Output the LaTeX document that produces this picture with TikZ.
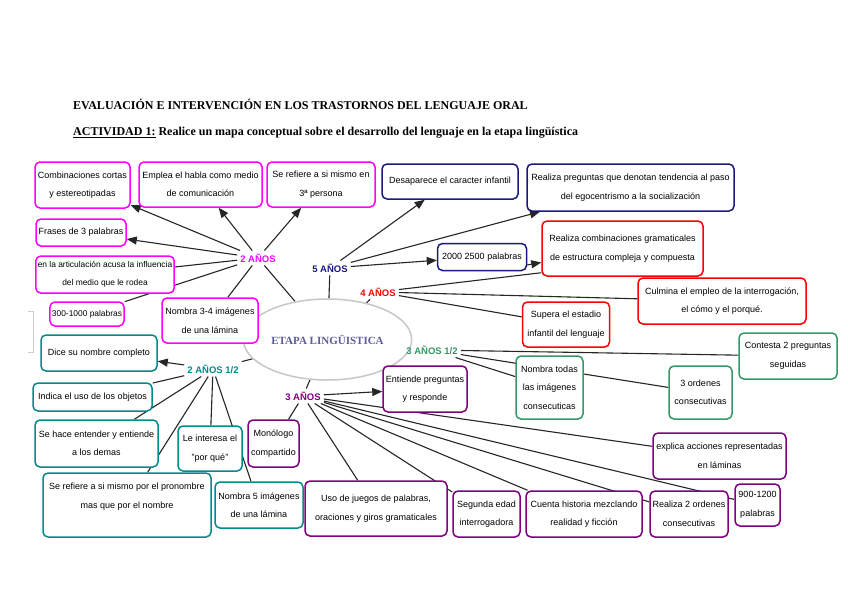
\documentclass[tikz,border=0pt]{standalone}
\usepackage{fontspec}
\setmainfont{Liberation Serif}
\setsansfont{Liberation Sans}
\usetikzlibrary{arrows.meta,shapes.geometric,backgrounds}
\definecolor{mag}{HTML}{FF00FF}
\definecolor{navy}{HTML}{1A1A7E}
\definecolor{rojo}{HTML}{FF0000}
\definecolor{verde}{HTML}{339966}
\definecolor{teal2}{HTML}{008B8B}
\definecolor{morado}{HTML}{800080}
\definecolor{etapatxt}{HTML}{5C5C99}

\begin{document}
\begin{tikzpicture}[x=1pt, y=-1pt,
  box/.style={draw=#1, fill=white, rounded corners=5pt, line width=1.5pt, align=center,
              font=\sffamily\fontsize{9}{18.5}\selectfont, inner sep=2pt},
  wh/.style n args={2}{minimum width=#1pt, minimum height=#2pt},
  small/.style={font=\sffamily\fontsize{8.4}{18}\selectfont},
  age/.style={text=#1, font=\sffamily\bfseries\fontsize{9.5}{11}\selectfont, inner sep=3pt},
  link/.style={draw=black!85, line width=1.1pt},
  >={Triangle[length=10pt,width=8pt]}]
\useasboundingbox (0,0) rectangle (848,599);

\node[anchor=west, inner sep=0pt, font=\bfseries\fontsize{12}{14}\selectfont] (titulo) at (73,104)
  {EVALUACIÓN E INTERVENCIÓN EN LOS TRASTORNOS DEL LENGUAJE ORAL};
\node[anchor=west, inner sep=0pt, font=\bfseries\fontsize{12}{14}\selectfont] (actividad) at (73,133)
  {\underline{ACTIVIDAD 1:} Realice un mapa conceptual sobre el desarrollo del lenguaje en la etapa lingüística};

\node[ellipse, draw=black!22, line width=1.5pt, fill=white, minimum width=133pt, minimum height=81pt,
      text=etapatxt, font=\bfseries\fontsize{11}{13}\selectfont] (etapa) at (327.5,339.5) {ETAPA LINGÜISTICA};

\node[age=mag] (dos) at (258,258) {2 AÑOS};
\node[box=mag, wh={95}{46}] (comb) at (82.5,185) {Combinaciones cortas\\y estereotipadas};
\node[box=mag, wh={123}{45}] (emplea) at (200.5,184.5) {Emplea el habla como medio\\de comunicación};
\node[box=mag, wh={108}{45}] (refiere) at (321,184.5) {Se refiere a si mismo en\\3ª persona};
\node[box=mag, wh={90}{27}] (frases) at (81,232.5) {Frases de 3 palabras};
\node[box=mag, wh={138}{37}, small] (artic) at (105,274.5) {en la articulación acusa la influencia\\del medio que le rodea};
\node[box=mag, wh={74}{24}, small] (pal300) at (87,314) {300-1000 palabras};
\node[box=mag, wh={96}{45}] (nom34) at (210,320.5) {Nombra 3-4 imágenes\\de una lámina};

\node[age=navy] (cinco) at (330,268) {5 AÑOS};
\node[box=navy, wh={136}{35}] (desap) at (450,181.5) {Desaparece el caracter infantil};
\node[box=navy, wh={207}{47}] (pregunt) at (630.5,187.5) {Realiza preguntas que denotan tendencia al paso\\del egocentrismo a la socialización};
\node[box=navy, wh={89}{27}] (pal2000) at (482,257) {2000 2500 palabras};

\node[age=rojo] (cuatro) at (378,292) {4 AÑOS};
\node[box=rojo, wh={161}{55}] (combgram) at (622.5,248.5) {Realiza combinaciones gramaticales\\de estructura compleja y compuesta};
\node[box=rojo, wh={168}{46}] (culmina) at (722,301) {Culmina el empleo de la interrogación,\\el cómo y el porqué.};
\node[box=rojo, wh={87}{45}] (supera) at (566,324.5) {Supera el estadio\\infantil del lenguaje};

\node[age=verde] (tresmedio) at (432,350) {3 AÑOS 1/2};
\node[box=verde, wh={98}{46}] (contesta) at (788,356) {Contesta 2 preguntas\\seguidas};
\node[box=verde, wh={67}{63}] (nomtodas) at (549.5,387.5) {Nombra todas\\las imágenes\\consecuticas};
\node[box=verde, wh={63}{53}] (ordenes) at (700.5,392.5) {3 ordenes\\consecutivas};

\node[age=morado] (tres) at (303,396) {3 AÑOS};
\node[box=morado, wh={84}{46}] (entiende) at (425,389) {Entiende preguntas\\y responde};
\node[box=morado, wh={133}{46}] (explica) at (719.5,456) {explica acciones representadas\\en láminas};
\node[box=morado, wh={45}{42}] (pal900) at (757.5,505) {900-1200\\palabras};
\node[box=morado, wh={78}{46}] (realiza) at (689,514) {Realiza 2 ordenes\\consecutivas};
\node[box=morado, wh={116}{46}] (cuenta) at (584,514) {Cuenta historia mezclando\\realidad y ficción};
\node[box=morado, wh={67}{46}] (segunda) at (486.5,514) {Segunda edad\\interrogadora};
\node[box=morado, wh={142}{55}] (juegos) at (376,508.5) {Uso de juegos de palabras,\\oraciones y giros gramaticales};
\node[box=morado, wh={51}{47}] (monologo) at (273.5,443.5) {Monólogo\\compartido};

\node[age=teal2] (dosmedio) at (213,369) {2 AÑOS 1/2};
\node[box=teal2, wh={116}{36}] (dice) at (99,353) {Dice su nombre completo};
\node[box=teal2, wh={119}{28}] (indica) at (92.5,397) {Indica el uso de los objetos};
\node[box=teal2, wh={123}{47}] (hace) at (96.5,443.5) {Se hace entender y entiende\\a los demas};
\node[box=teal2, wh={168}{64}] (pronombre) at (127,505) {Se refiere a si mismo por el pronombre\\mas que por el nombre\\~};
\node[box=teal2, wh={64}{45}] (interesa) at (210,448.5) {Le interesa el\\"por qué"};
\node[box=teal2, wh={88}{46}] (nom5) at (259,505) {Nombra 5 imágenes\\de una lámina};

\draw[black!20, line width=1pt] (28,311) -- (33,311) -- (33,352) -- (28,352);

\begin{pgfonlayer}{background}
\fill[white] (0,0) rectangle (848,599);
\draw[link] (dos) -- (etapa);
\draw[link,->] (dos) -- (comb);
\draw[link,->] (dos) -- (emplea);
\draw[link,->] (dos) -- (refiere);
\draw[link,->] (dos) -- (frases);
\draw[link] (dos) -- (artic);
\draw[link] (dos) -- (pal300);
\draw[link] (dos) -- (nom34);

\draw[link] (cinco) -- (etapa);
\draw[link,->] (cinco) -- (desap);
\draw[link,->] (cinco) -- (pregunt);
\draw[link,->] (cinco) -- (pal2000);
\draw[link,->] ([yshift=-8pt]pal2000.east) -- ([yshift=-14pt]combgram.west);

\draw[link] (cuatro) -- (etapa);
\draw[link] (cuatro) -- ([yshift=4pt]combgram.south west);
\draw[link] (cuatro) -- (culmina);
\draw[link] (cuatro) -- (supera);

\draw[link] (etapa) -- (tresmedio);
\draw[link] (tresmedio) -- (contesta);
\draw[link] (tresmedio) -- (ordenes);
\draw[link] (tresmedio) -- (nomtodas);

\draw[link] (etapa) -- (tres);
\draw[link,->] (tres) -- (entiende);
\draw[link] (tres) -- (explica);
\draw[link] (tres) -- (pal900);
\draw[link] (tres) -- (realiza);
\draw[link] (tres) -- (cuenta);
\draw[link] (tres) -- (segunda);
\draw[link] (tres) -- (juegos);
\draw[link] (tres) -- (monologo);

\draw[link] (etapa) -- (dosmedio);
\draw[link,->] (dosmedio) -- (dice);
\draw[link] (dosmedio) -- (indica);
\draw[link] (dosmedio) -- (hace);
\draw[link] (dosmedio) -- (pronombre);
\draw[link] (dosmedio) -- (interesa);
\draw[link] (dosmedio) -- (nom5);
\end{pgfonlayer}
\end{tikzpicture}
\end{document}
